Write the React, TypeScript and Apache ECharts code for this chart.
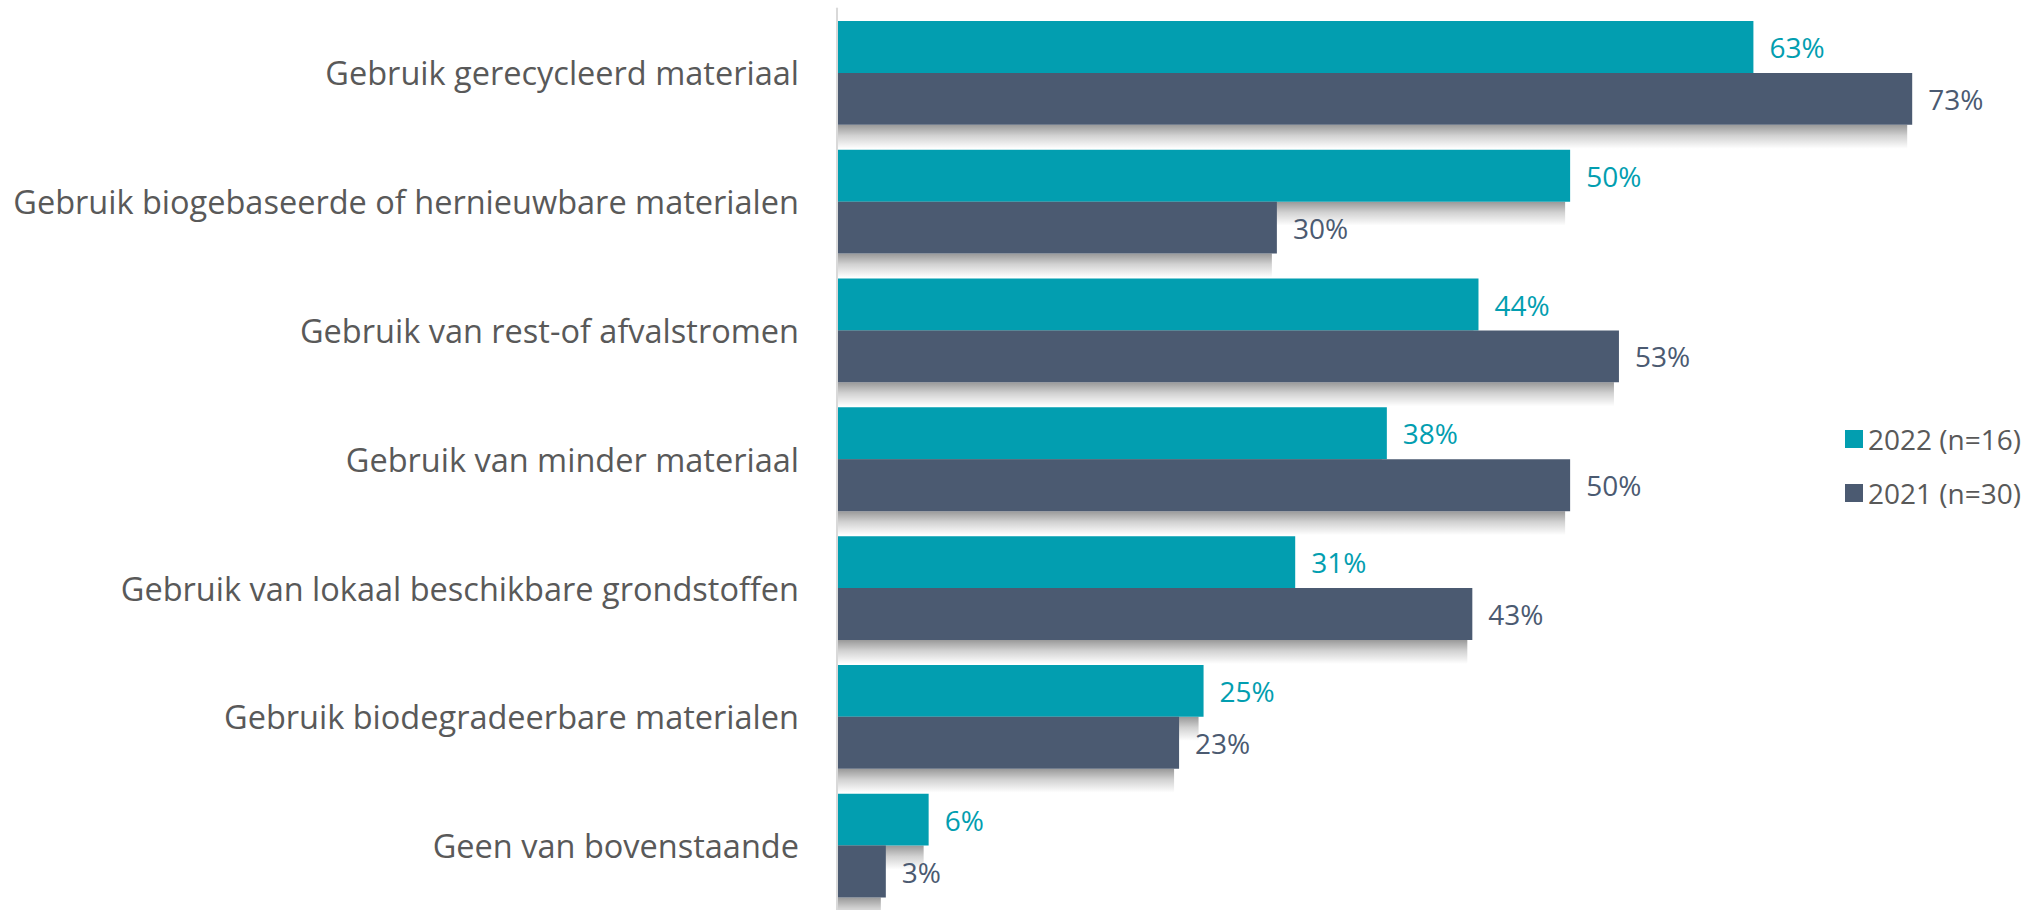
import React, { useEffect, useRef } from "react";
import * as echarts from "echarts";

const categories = [
  "Gebruik gerecycleerd materiaal",
  "Gebruik biogebaseerde of hernieuwbare materialen",
  "Gebruik van rest-of afvalstromen",
  "Gebruik van minder materiaal",
  "Gebruik van lokaal beschikbare grondstoffen",
  "Gebruik biodegradeerbare materialen",
  "Geen van bovenstaande",
];
const series2022 = [62.5, 50, 43.75, 37.5, 31.25, 25, 6.25];
const series2021 = [73.33, 30, 53.33, 50, 43.33, 23.33, 3.33];
const seriesNames = ["2022 (n=16)", "2021 (n=30)"];

const TEAL = "#029EB0";
const DARK = "#4B5A71";
const TEXT = "#595959";
const FONT = "'Open Sans', 'Noto Sans', sans-serif";
const CAT_GAP = 0.194;

export default function App() {
  const ref = useRef<HTMLDivElement>(null);
  useEffect(() => {
    if (!ref.current) return;
    const chart = echarts.init(ref.current, undefined, { renderer: "svg" });
    const shadowData = categories.map((_, i) => [i, series2022[i], series2021[i]]);
    const shadowFill = () =>
      new echarts.graphic.LinearGradient(0, 0, 0, 1, [
        { offset: 0, color: "rgba(0,0,0,0.40)" },
        { offset: 0.45, color: "rgba(0,0,0,0.18)" },
        { offset: 1, color: "rgba(0,0,0,0)" },
      ]);
    const renderShadow = (params: any, api: any) => {
      const idx = api.value(0);
      const v1 = api.value(1);
      const v2 = api.value(2);
      const origin = api.coord([0, idx]);
      const band = api.size([0, 1])[1];
      const barH = (band * (1 - CAT_GAP)) / 2;
      const e1 = api.coord([v1, idx])[0];
      const e2 = api.coord([v2, idx])[0];
      const sh = 24;
      const children: any[] = [];
      children.push({
        type: "rect",
        shape: { x: origin[0] + 1, y: origin[1], width: Math.max(0, e1 - origin[0] - 6), height: sh },
        style: { fill: shadowFill() },
      });
      children.push({
        type: "rect",
        shape: { x: origin[0] + 1, y: origin[1] + barH, width: Math.max(0, e2 - origin[0] - 6), height: sh },
        style: { fill: shadowFill() },
      });
      return { type: "group", children };
    };
    chart.setOption({
      animation: false,
      backgroundColor: "#ffffff",
      textStyle: { fontFamily: FONT },
      grid: { left: 837, top: 8.5, width: 1173, height: 904, containLabel: false },
      legend: {
        orient: "vertical",
        left: 1840,
        top: 420,
        itemWidth: 18,
        itemHeight: 18,
        itemGap: 26,
        icon: "rect",
        data: seriesNames,
        textStyle: { color: TEXT, fontSize: 28, lineHeight: 28, fontFamily: FONT, padding: [0, 0, 0, 0] },
      },
      xAxis: {
        type: "value",
        min: 0,
        max: 80,
        show: false,
        splitLine: { show: false },
      },
      yAxis: {
        type: "category",
        data: categories,
        inverse: true,
        axisTick: { show: false },
        axisLine: { show: true, lineStyle: { color: "#D9D9D9", width: 2 } },
        axisLabel: { color: TEXT, fontSize: 32.5, margin: 38, fontFamily: FONT },
        z: 5,
      },
      series: [
        {
          name: "shadow",
          type: "custom",
          data: shadowData,
          encode: { x: [1, 2], y: 0 },
          renderItem: renderShadow,
          silent: true,
          z: 1,
          clip: false,
        },
        {
          name: seriesNames[0],
          type: "bar",
          data: series2022,
          barGap: "0%",
          barCategoryGap: "19.4%",
          z: 3,
          itemStyle: { color: TEAL },
          label: {
            show: true,
            position: "right",
            distance: 16,
            color: TEAL,
            fontSize: 28,
            fontFamily: FONT,
            formatter: (p: any) => Math.round(p.value) + "%",
          },
        },
        {
          name: seriesNames[1],
          type: "bar",
          data: series2021,
          barGap: "0%",
          barCategoryGap: "19.4%",
          z: 3,
          itemStyle: { color: DARK },
          label: {
            show: true,
            position: "right",
            distance: 16,
            color: DARK,
            fontSize: 28,
            fontFamily: FONT,
            formatter: (p: any) => Math.round(p.value) + "%",
          },
        },
      ],
    });
    return () => chart.dispose();
  }, []);
  return (
    <div
      ref={ref}
      style={{ position: "fixed", left: 0, top: 0, width: 2029, height: 910 }}
    />
  );
}
